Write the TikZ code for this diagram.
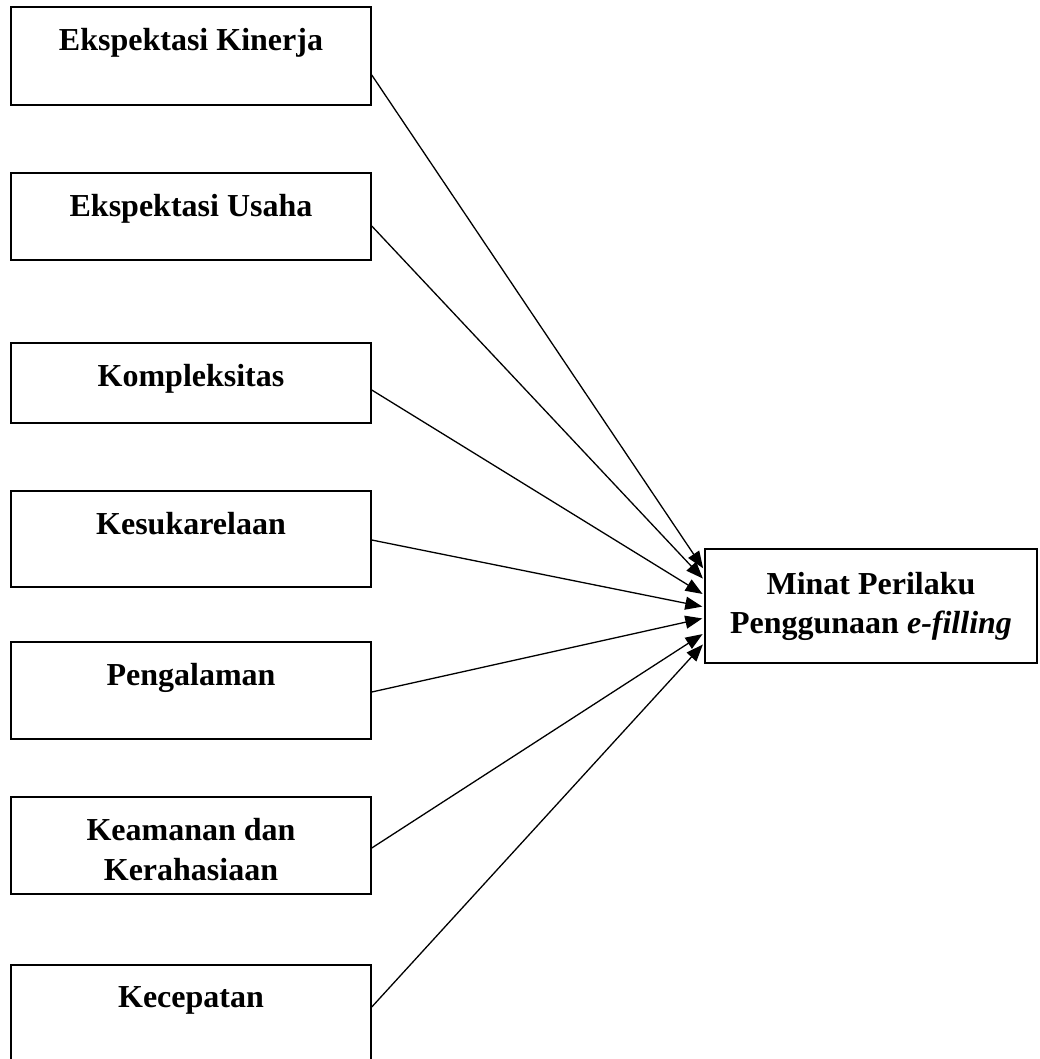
\documentclass[tikz,border=0pt]{standalone}
\usepackage{fontspec}
\setmainfont{Liberation Serif}
\usetikzlibrary{arrows.meta}
\tikzset{
  kotak/.style={draw, line width=1.5pt, minimum width=360pt, inner sep=0pt},
  teks/.style={anchor=north, yshift=-22pt, inner sep=0pt, align=center,
    font=\fontsize{32}{40}\selectfont\bfseries},
  panah/.style={line width=1.3pt, -{Triangle[length=17pt,width=13pt]}, shorten >=2pt}
}
\begin{document}
\begin{tikzpicture}[x=1pt,y=-1pt]
\useasboundingbox (0,0) rectangle (1039,1059);
\def\vari#1#2#3#4{
\node[kotak, minimum height=#3pt, label={[teks]north:{#4}}] (#1) at (191,#2) {};
}
\vari{ek}{56}{98}{Ekspektasi Kinerja}
\vari{eu}{216.5}{87}{Ekspektasi Usaha}
\vari{ko}{383}{80}{Kompleksitas}
\vari{ks}{539}{96}{Kesukarelaan}
\vari{pg}{690.5}{97}{Pengalaman}
\vari{kk}{845.5}{97}{Keamanan dan\\Kerahasiaan}
\vari{kc}{1017.5}{105}{Kecepatan}
% variabel terikat
\node[kotak, minimum width=332pt, minimum height=114pt, align=center,
  font=\fontsize{32}{39}\selectfont\bfseries] (mp) at (871,606)
  {Minat Perilaku\\Penggunaan \textit{e-filling}};
\foreach \a/\sa/\sb in {ek/-19/36, eu/-9.5/26, ko/-7/11, ks/-1/-1,
  pg/-1.5/-12, kk/-2.5/-27, kc/10.5/-37}
  \draw[panah] ([yshift=\sa pt]\a.east) -- ([yshift=\sb pt]mp.west);
\end{tikzpicture}
\end{document}
